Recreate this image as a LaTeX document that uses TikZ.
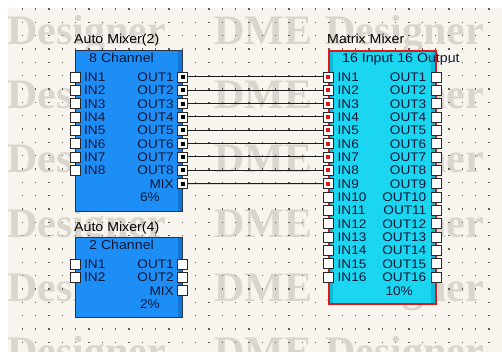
\documentclass[tikz,border=0pt]{standalone}
\usepackage{fontspec}
\setmainfont[FakeStretch=1.09]{Liberation Sans}
\newfontfamily\wmfont{Liberation Serif}
\definecolor{canvas}{RGB}{247,245,237}
\definecolor{wmgray}{RGB}{218,213,205}
\definecolor{dotc}{RGB}{95,95,95}
\definecolor{ablue}{RGB}{28,142,245}
\definecolor{abluedark}{RGB}{18,118,215}
\definecolor{mcyan}{RGB}{26,214,240}
\definecolor{mcyandark}{RGB}{8,188,220}
\definecolor{boxline}{RGB}{40,50,70}
\definecolor{selred}{RGB}{222,24,24}
\definecolor{navy}{RGB}{16,24,56}
\definecolor{portline}{RGB}{40,40,40}
\definecolor{wirec}{RGB}{30,30,30}
\begin{document}
\begin{tikzpicture}[x=1pt,y=-1pt,
  wm/.style={font=\wmfont\bfseries\fontsize{42}{42}\selectfont, text=wmgray, inner sep=0pt, anchor=base west},
  amix/.style={draw=boxline, line width=1.2pt, fill=ablue, inner sep=0pt, anchor=north west,
    path picture={\fill[abluedark] ([xshift=-5pt]path picture bounding box.north east) rectangle (path picture bounding box.south east);}},
  mmix/.style={draw=selred, line width=2pt, fill=mcyan, inner sep=0pt, anchor=north west,
    path picture={\fill[mcyandark] ([xshift=-5pt]path picture bounding box.north east) rectangle (path picture bounding box.south east);
                  \fill[mcyandark] (path picture bounding box.north west) rectangle ([xshift=4pt]path picture bounding box.south west);}},
  lbl/.style={font=\fontsize{12.5}{12.5}\selectfont, text=navy, inner sep=0pt, text height=9pt, text depth=0pt},
  ttl/.style={font=\fontsize{13}{13}\selectfont, text=black, inner sep=0pt, text height=9.3pt, text depth=0pt, anchor=west},
  hdr/.style={font=\fontsize{13}{13}\selectfont, text=navy, inner sep=0pt, text height=9.3pt, text depth=0pt, anchor=west},
  port/.style={draw=portline, fill=white, line width=0.9pt, minimum size=10pt, inner sep=0pt},
  portblk/.style={port, path picture={\fill[black] ([shift={(-2pt,-2pt)}]path picture bounding box.center) rectangle ++(4pt,4pt);}},
  portred/.style={port, path picture={\fill[selred] ([shift={(-1.7pt,-2pt)}]path picture bounding box.center) rectangle ++(3.4pt,4pt);}},
  wire/.style={draw=wirec, line width=1pt}
]
\useasboundingbox (0,0) rectangle (502,352);
\fill[white] (0,0) rectangle (502,352);
\fill[canvas] (8,8) rectangle (502,352);
% watermark
\begin{scope}
\clip (8,8) rectangle (502,352);
\foreach \r/\yy in {1/45,2/109,3/173,4/237,5/301,6/365} {
  \node[wm] (wmA\r) at (7,\yy) {Designer};
  \node[wm] (wmB\r) at (214,\yy) {DME};
  \node[wm] (wmC\r) at (325,\yy) {Designer};
}
% grid dots
\foreach \i in {1,...,36} {
  \foreach \j in {0,...,25} {
    \fill[dotc] ({9+13.333*\i-0.65},{9+13.333*\j-0.65}) rectangle ++(1.3,1.3);
  }
}
\end{scope}

% ---------- Auto Mixer(2) ----------
\node[ttl] (tA) at (74,39) {Auto Mixer(2)};
\node[amix, minimum width=107pt, minimum height=161pt] (A) at (75,50) {};
\node[hdr] (hA) at (89,58) {8 Channel};
\foreach \k in {1,...,8} {
  \pgfmathsetmacro\yy{77+13.333*(\k-1)}
  \node[lbl, anchor=west] (lAin\k) at (84,\yy) {IN\k};
  \node[lbl, anchor=east] (lAout\k) at (174,\yy) {OUT\k};
  \node[port] (pAin\k) at (75,\yy) {};
  \node[portblk] (pAout\k) at (182.5,\yy) {};
}
\node[lbl, anchor=east] (lAmix) at (174,183.7) {MIX};
\node[portblk] (pAout9) at (182.5,183.7) {};
\node[lbl, anchor=east] (lApct) at (160,197) {6\%};

% ---------- Auto Mixer(4) ----------
\node[ttl] (tB) at (74,227) {Auto Mixer(4)};
\node[amix, minimum width=107pt, minimum height=80pt] (B) at (75,237) {};
\node[hdr] (hB) at (89,245) {2 Channel};
\foreach \k in {1,2} {
  \pgfmathsetmacro\yy{264+13.333*(\k-1)}
  \node[lbl, anchor=west] (lBin\k) at (84,\yy) {IN\k};
  \node[lbl, anchor=east] (lBout\k) at (174,\yy) {OUT\k};
  \node[port] (pBin\k) at (75,\yy) {};
  \node[port] (pBout\k) at (182.5,\yy) {};
}
\node[lbl, anchor=east] (lBmix) at (174,290.7) {MIX};
\node[port] (pBout3) at (182.5,290.7) {};
\node[lbl, anchor=east] (lBpct) at (160,304) {2\%};

% ---------- Matrix Mixer ----------
\node[ttl] (tM) at (327,39) {Matrix Mixer};
\node[mmix, minimum width=107pt, minimum height=253pt] (M) at (328,50) {};
\node[hdr] (hM) at (342,58) {16 Input 16 Output};
\foreach \k in {1,...,16} {
  \pgfmathsetmacro\yy{77+13.333*(\k-1)}
  \node[lbl, anchor=west] (lMin\k) at (337.5,\yy) {IN\k};
  \node[lbl, anchor=east] (lMout\k) at (426.5,\yy) {OUT\k};
  \node[port] (pMout\k) at (436,\yy) {};
}
\foreach \k in {1,...,9} {
  \pgfmathsetmacro\yy{77+13.333*(\k-1)}
  \node[portred] (pMin\k) at (328,\yy) {};
}
\foreach \k in {10,...,16} {
  \pgfmathsetmacro\yy{77+13.333*(\k-1)}
  \node[port] (pMin\k) at (328,\yy) {};
}
\node[lbl, anchor=east] (lMpct) at (413,290.5) {10\%};

% ---------- wires ----------
\foreach \k in {1,...,9} {
  \draw[wire] (pAout\k.east) -- (pMin\k.west);
}
\end{tikzpicture}
\end{document}
